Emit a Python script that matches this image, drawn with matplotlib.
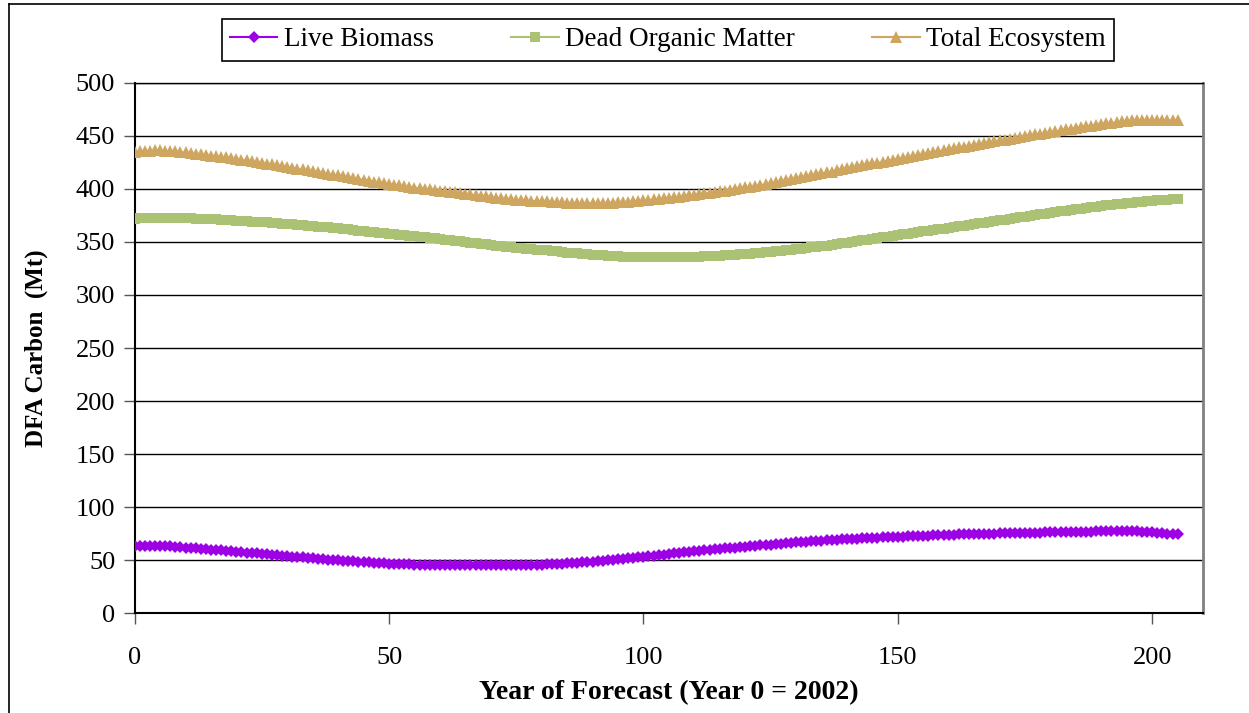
import matplotlib.pyplot as plt
from matplotlib.lines import Line2D

# years 0..205
years = list(range(0, 206))

live = [63.0, 63.3, 63.5, 63.6, 63.6, 63.5, 63.3, 63.0, 62.7, 62.4, 62.0,
        61.6, 61.2, 60.8, 60.4, 60.0, 59.7, 59.3, 58.9, 58.5, 58.1,
        57.6, 57.2, 56.8, 56.4, 56.0, 55.5, 55.1, 54.7, 54.3, 53.9,
        53.5, 53.1, 52.7, 52.3, 51.9, 51.5, 51.1, 50.7, 50.3, 49.9,
        49.5, 49.2, 48.9, 48.6, 48.3, 48.0, 47.7, 47.4, 47.2, 46.9,
        46.7, 46.5, 46.3, 46.2, 46.0, 45.9, 45.8, 45.7, 45.6, 45.6,
        45.5, 45.5, 45.4, 45.4, 45.4, 45.3, 45.3, 45.3, 45.3, 45.3,
        45.3, 45.3, 45.3, 45.4, 45.4, 45.5, 45.6, 45.7, 45.8, 46.0,
        46.2, 46.4, 46.6, 46.8, 47.1, 47.4, 47.7, 48.0, 48.4, 48.8,
        49.2, 49.6, 50.0, 50.5, 50.9, 51.4, 51.9, 52.4, 52.9, 53.4,
        53.9, 54.4, 54.9, 55.4, 55.9, 56.4, 56.9, 57.4, 57.9, 58.4,
        58.9, 59.4, 59.8, 60.3, 60.7, 61.1, 61.6, 62.0, 62.4, 62.8,
        63.2, 63.6, 64.0, 64.4, 64.8, 65.2, 65.6, 66.0, 66.4, 66.8,
        67.1, 67.5, 67.8, 68.2, 68.5, 68.8, 69.1, 69.4, 69.7, 70.0,
        70.2, 70.5, 70.7, 70.9, 71.1, 71.3, 71.5, 71.7, 71.9, 72.1,
        72.3, 72.5, 72.7, 72.9, 73.1, 73.3, 73.5, 73.6, 73.8, 74.0,
        74.1, 74.3, 74.4, 74.6, 74.7, 74.8, 75.0, 75.1, 75.2, 75.3,
        75.4, 75.5, 75.6, 75.7, 75.8, 75.9, 76.0, 76.1, 76.2, 76.3,
        76.4, 76.5, 76.6, 76.7, 76.8, 76.9, 77.0, 77.1, 77.2, 77.3,
        77.4, 77.5, 77.5, 77.6, 77.6, 77.5, 77.3, 77.0, 76.7, 76.3,
        75.9, 75.5, 75.1, 74.8, 74.5]

dead = [372.0, 372.2, 372.4, 372.5, 372.6, 372.7, 372.7, 372.7, 372.6, 372.5, 372.4,
        372.2, 372.0, 371.8, 371.6, 371.4, 371.2, 371.0, 370.7, 370.4, 370.1,
        369.8, 369.5, 369.2, 368.9, 368.6, 368.3, 368.0, 367.6, 367.2, 366.8,
        366.4, 366.0, 365.6, 365.2, 364.8, 364.4, 364.0, 363.6, 363.2, 362.7,
        362.2, 361.7, 361.2, 360.7, 360.2, 359.7, 359.2, 358.7, 358.2, 357.7,
        357.2, 356.7, 356.2, 355.7, 355.2, 354.7, 354.2, 353.7, 353.2, 352.7,
        352.2, 351.7, 351.2, 350.6, 350.0, 349.4, 348.8, 348.2, 347.6, 347.0,
        346.5, 346.0, 345.5, 345.0, 344.5, 344.0, 343.6, 343.2, 342.8, 342.4,
        342.0, 341.5, 341.0, 340.5, 340.0, 339.5, 339.1, 338.7, 338.3, 337.9,
        337.5, 337.2, 336.9, 336.6, 336.4, 336.2, 336.0, 335.9, 335.8, 335.7,
        335.6, 335.6, 335.6, 335.6, 335.6, 335.7, 335.8, 335.9, 336.0, 336.1,
        336.2, 336.4, 336.6, 336.8, 337.0, 337.3, 337.6, 337.9, 338.2, 338.5,
        338.9, 339.3, 339.7, 340.1, 340.5, 341.0, 341.5, 342.0, 342.5, 343.0,
        343.6, 344.2, 344.8, 345.4, 346.0, 346.6, 347.2, 347.9, 348.6, 349.3,
        350.0, 350.7, 351.4, 352.1, 352.8, 353.5, 354.2, 354.9, 355.6, 356.3,
        357.0, 357.7, 358.4, 359.1, 359.8, 360.5, 361.2, 361.9, 362.6, 363.3,
        364.0, 364.7, 365.4, 366.1, 366.8, 367.5, 368.2, 368.9, 369.6, 370.3,
        371.0, 371.7, 372.4, 373.1, 373.8, 374.5, 375.2, 375.9, 376.6, 377.3,
        378.0, 378.7, 379.4, 380.1, 380.7, 381.3, 381.9, 382.5, 383.1, 383.7,
        384.3, 384.9, 385.5, 386.0, 386.5, 387.0, 387.5, 388.0, 388.4, 388.8,
        389.2, 389.5, 389.8, 390.0, 390.2]

# total ecosystem = live + dead
total = [a + b for a, b in zip(live, dead)]

names = ['Live Biomass', 'Dead Organic Matter', 'Total Ecosystem']

plt.rcParams['font.family'] = ['Liberation Serif', 'DejaVu Serif']

fig = plt.figure(figsize=(12.49, 7.13), dpi=100)
ax = fig.add_axes([0.1078, 0.1398, 0.8554, 0.7442])

c_live = '#9E00E6'
c_dead = '#ABC274'
c_tot = '#CFA660'

ax.plot(years, live, color=c_live, lw=1, marker='D', ms=6.5, mew=0, zorder=3)
ax.plot(years, dead, color=c_dead, lw=1, marker='s', ms=7, mew=0, zorder=3)
ax.plot(years, total, color=c_tot, lw=1, marker='^', ms=8, mew=0, zorder=3)

ax.set_xlim(0, 210)
ax.set_ylim(0, 500)
ax.set_xticks([0, 50, 100, 150, 200])
ax.set_yticks(range(0, 501, 50))
ax.yaxis.grid(True, color='black', lw=1)
ax.set_axisbelow(True)
ax.tick_params(axis='both', labelsize=19, length=8, width=1, direction='out',
               color='#555555')
ax.tick_params(axis='x', pad=16)
ax.tick_params(axis='y', pad=6)

for s in ['left', 'bottom']:
    ax.spines[s].set_color('black')
    ax.spines[s].set_linewidth(1.5)
ax.spines['right'].set_color('#808080')
ax.spines['right'].set_linewidth(2)
ax.spines['top'].set_color('black')
ax.spines['top'].set_linewidth(1)

ax.set_xlabel('Year of Forecast (Year 0 = 2002)', fontsize=20, fontweight='bold', labelpad=8)
ax.set_ylabel('DFA Carbon  (Mt)', fontsize=18, fontweight='bold', labelpad=20)

handles = [
    Line2D([], [], color=c_live, lw=1.5, marker='D', ms=6.5, mew=0),
    Line2D([], [], color=c_dead, lw=1.5, marker='s', ms=7, mew=0),
    Line2D([], [], color=c_tot, lw=1.5, marker='^', ms=8, mew=0),
]
leg = fig.legend(handles, names, loc='center', bbox_to_anchor=(668 / 1249, 1 - 40 / 713),
                 ncol=3, fontsize=19.5, frameon=True, fancybox=False, edgecolor='black',
                 handlelength=1.75, handletextpad=0.25, columnspacing=2.85,
                 borderpad=0.3, framealpha=1)
leg.get_frame().set_linewidth(1.2)

# outer frame lines (top and left)
fig.add_artist(Line2D([9 / 1249, 1], [1 - 4 / 713, 1 - 4 / 713], color='black', lw=1.2))
fig.add_artist(Line2D([9 / 1249, 9 / 1249], [0, 1 - 4 / 713], color='black', lw=1.2))

fig.savefig('out.png', dpi=100)
